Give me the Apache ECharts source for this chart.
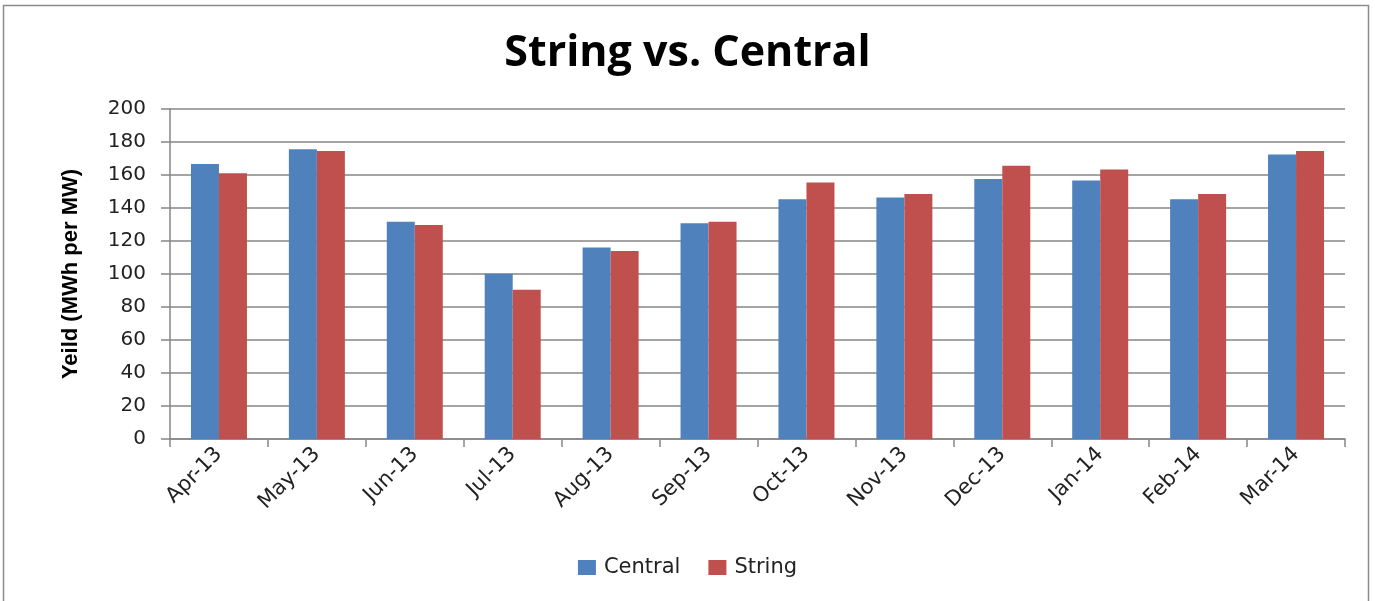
<!DOCTYPE html>
<html>
<head>
<meta charset="utf-8">
<script src="https://cdn.jsdelivr.net/npm/echarts@6/dist/echarts.min.js"></script>
<style>
  html, body { margin: 0; padding: 0; background: #fff; }
  #chart { width: 1375px; height: 601px; }
</style>
</head>
<body>
<div id="chart"></div>
<script>
// Monthly yield per MW for central vs. string inverters
const months = ['Apr-13', 'May-13', 'Jun-13', 'Jul-13', 'Aug-13', 'Sep-13',
                'Oct-13', 'Nov-13', 'Dec-13', 'Jan-14', 'Feb-14', 'Mar-14'];
const central = [166.7, 175.6, 131.7, 100.1, 116.1, 130.7, 145.3, 146.3, 157.6, 156.6, 145.3, 172.4];
const string  = [161.1, 174.6, 129.7, 90.4, 113.9, 131.7, 155.4, 148.5, 165.6, 163.3, 148.5, 174.5];
const yTicks = [0, 20, 40, 60, 80, 100, 120, 140, 160, 180, 200];

const chart = echarts.init(document.getElementById('chart'), null, { renderer: 'canvas' });
const axisGray = '#868686';
const labelFont = 'DejaVu Sans';

chart.setOption({
  animation: false,
  backgroundColor: '#ffffff',
  graphic: [{
    type: 'rect',
    shape: { x: 3.5, y: 5.5, width: 1365, height: 600 },
    style: { fill: 'none', stroke: '#8c8c8c', lineWidth: 1.5 },
    silent: true
  }],
  title: {
    text: 'String vs. Central',
    left: 'center',
    top: 27,
    textStyle: { fontFamily: 'Open Sans', fontWeight: 'bold', fontSize: 43, color: '#000' }
  },
  legend: {
    bottom: 18,
    left: 'center',
    itemWidth: 18,
    itemHeight: 15,
    itemGap: 28,
    icon: 'rect',
    textStyle: { fontFamily: labelFont, fontSize: 21, color: '#222', padding: [0, 0, 0, 3] },
    data: ['Central', 'String']
  },
  grid: { left: 170, right: 30, top: 109, bottom: 162, containLabel: false },
  xAxis: {
    type: 'category',
    data: months,
    axisLine: { lineStyle: { color: axisGray, width: 1.5 } },
    axisTick: { show: true, alignWithLabel: false, length: 8, lineStyle: { color: axisGray, width: 1.5 } },
    axisLabel: {
      rotate: 45,
      margin: 12,
      fontFamily: labelFont,
      fontSize: 21,
      color: '#222',
      interval: 0
    }
  },
  yAxis: {
    type: 'value',
    min: yTicks[0],
    max: yTicks[yTicks.length - 1],
    interval: yTicks[1] - yTicks[0],
    name: 'Yeild (MWh per MW)',
    nameLocation: 'middle',
    nameGap: 88,
    nameRotate: 90,
    nameTextStyle: { fontFamily: 'Liberation Sans', fontWeight: 'bold', fontSize: 22, color: '#000' },
    axisLine: { show: true, lineStyle: { color: axisGray, width: 1.5 } },
    axisTick: { show: true, inside: false, length: 9, lineStyle: { color: axisGray, width: 1.5 } },
    axisLabel: { fontFamily: labelFont, fontSize: 20, color: '#222', margin: 24 },
    splitLine: { show: true, lineStyle: { color: axisGray, width: 1.5 } }
  },
  series: [
    {
      name: 'Central',
      type: 'bar',
      data: central,
      barWidth: 28,
      barGap: '0%',
      itemStyle: { color: '#4F81BD' }
    },
    {
      name: 'String',
      type: 'bar',
      data: string,
      barWidth: 28,
      barGap: '0%',
      itemStyle: { color: '#C0504D' }
    }
  ]
});
</script>
</body>
</html>
